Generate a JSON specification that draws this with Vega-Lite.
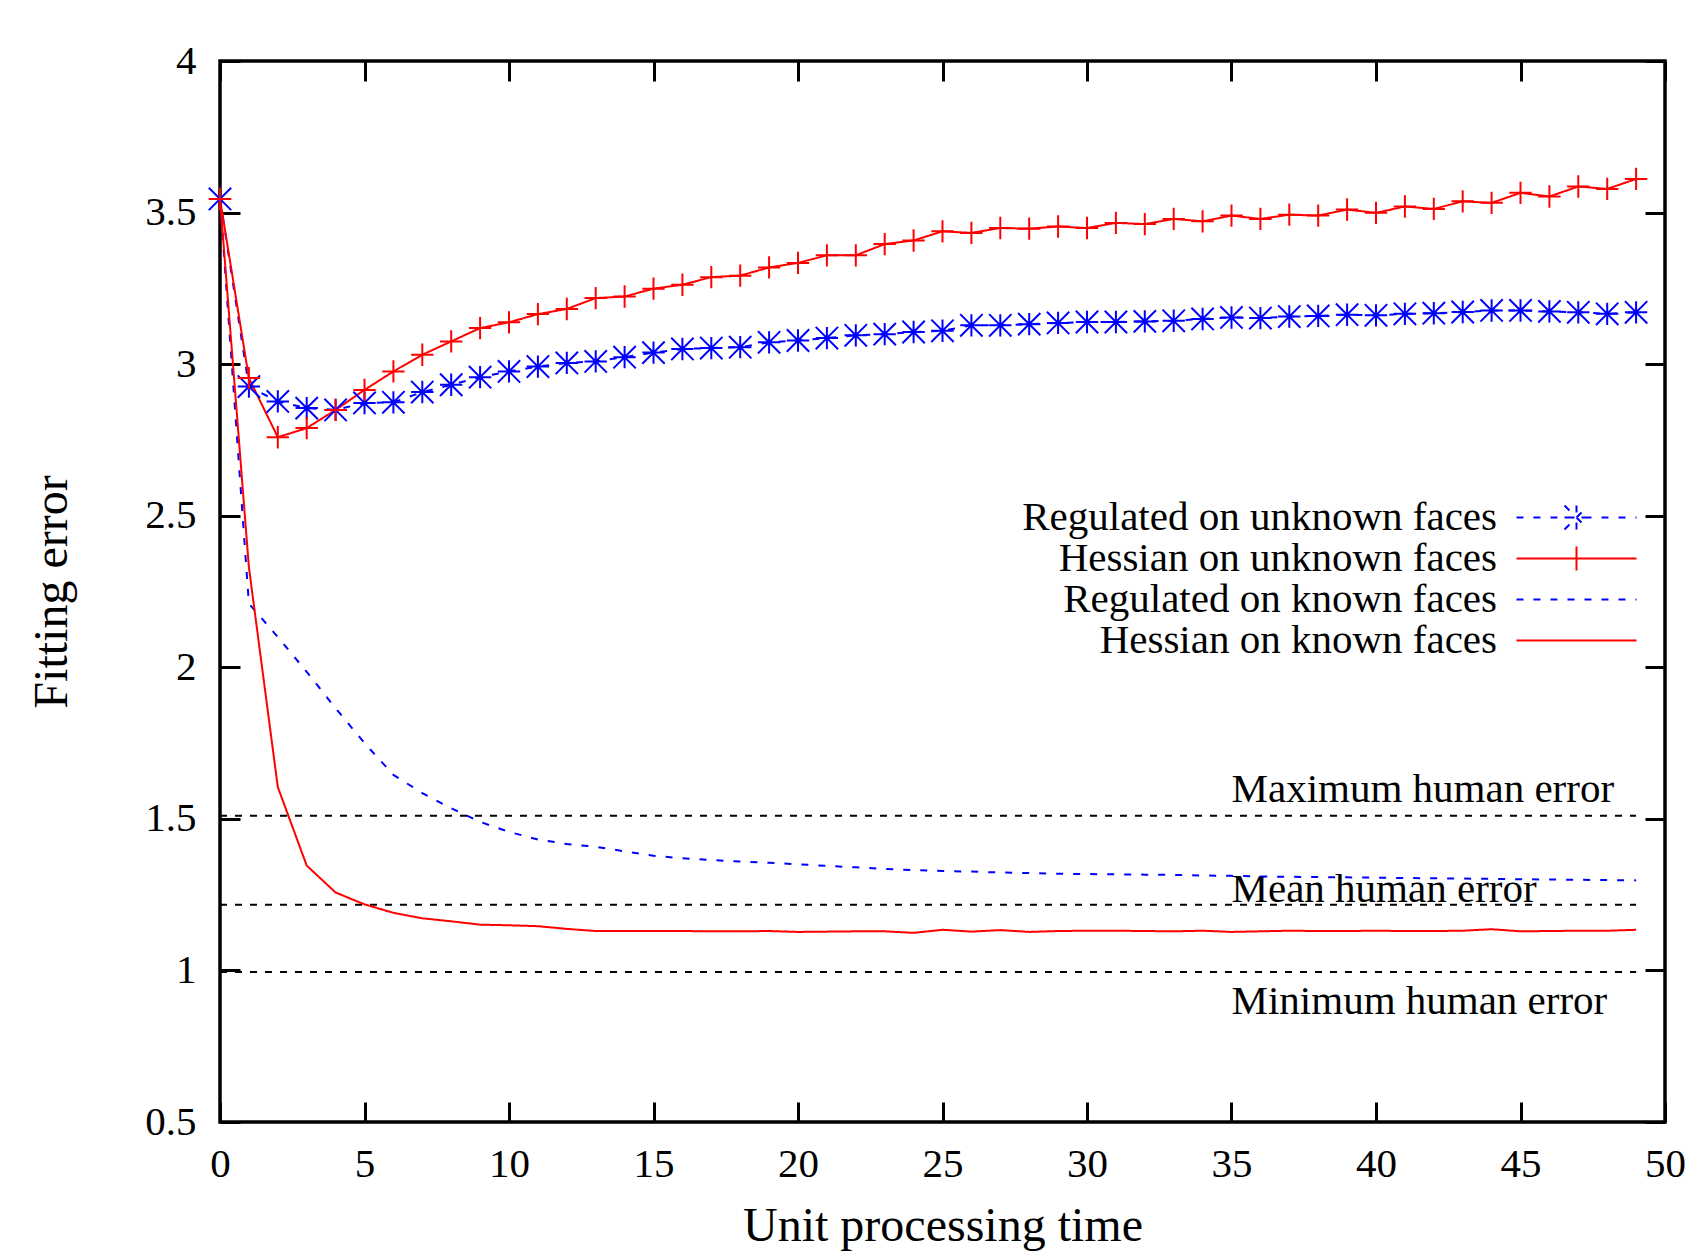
{
  "$schema": "https://vega.github.io/schema/vega-lite/v6.json",
  "width": 1445,
  "height": 1061,
  "autosize": {"type": "none"},
  "padding": {"left": 220, "top": 61, "right": 25, "bottom": 130},
  "background": "white",
  "config": {
    "font": "Liberation Serif",
    "view": {"stroke": "black", "strokeWidth": 3.5},
    "axis": {
      "grid": false,
      "domain": false,
      "tickColor": "black",
      "tickWidth": 3,
      "tickSize": -20,
      "labelFont": "Liberation Serif",
      "labelFontSize": 41,
      "labelColor": "black",
      "labelFlush": false,
      "titleFont": "Liberation Serif",
      "titleFontSize": 48,
      "titleFontWeight": "normal",
      "titleColor": "black"
    }
  },
  "datasets": {
    "curves": [
      {"time": 0, "error": 3.545, "series": "Regulated on unknown faces"},
      {"time": 1, "error": 2.926, "series": "Regulated on unknown faces"},
      {"time": 2, "error": 2.877, "series": "Regulated on unknown faces"},
      {"time": 3, "error": 2.855, "series": "Regulated on unknown faces"},
      {"time": 4, "error": 2.849, "series": "Regulated on unknown faces"},
      {"time": 5, "error": 2.872, "series": "Regulated on unknown faces"},
      {"time": 6, "error": 2.874, "series": "Regulated on unknown faces"},
      {"time": 7, "error": 2.908, "series": "Regulated on unknown faces"},
      {"time": 8, "error": 2.932, "series": "Regulated on unknown faces"},
      {"time": 9, "error": 2.957, "series": "Regulated on unknown faces"},
      {"time": 10, "error": 2.976, "series": "Regulated on unknown faces"},
      {"time": 11, "error": 2.992, "series": "Regulated on unknown faces"},
      {"time": 12, "error": 3.004, "series": "Regulated on unknown faces"},
      {"time": 13, "error": 3.009, "series": "Regulated on unknown faces"},
      {"time": 14, "error": 3.023, "series": "Regulated on unknown faces"},
      {"time": 15, "error": 3.038, "series": "Regulated on unknown faces"},
      {"time": 16, "error": 3.05, "series": "Regulated on unknown faces"},
      {"time": 17, "error": 3.053, "series": "Regulated on unknown faces"},
      {"time": 18, "error": 3.056, "series": "Regulated on unknown faces"},
      {"time": 19, "error": 3.072, "series": "Regulated on unknown faces"},
      {"time": 20, "error": 3.078, "series": "Regulated on unknown faces"},
      {"time": 21, "error": 3.086, "series": "Regulated on unknown faces"},
      {"time": 22, "error": 3.095, "series": "Regulated on unknown faces"},
      {"time": 23, "error": 3.099, "series": "Regulated on unknown faces"},
      {"time": 24, "error": 3.106, "series": "Regulated on unknown faces"},
      {"time": 25, "error": 3.11, "series": "Regulated on unknown faces"},
      {"time": 26, "error": 3.128, "series": "Regulated on unknown faces"},
      {"time": 27, "error": 3.128, "series": "Regulated on unknown faces"},
      {"time": 28, "error": 3.132, "series": "Regulated on unknown faces"},
      {"time": 29, "error": 3.136, "series": "Regulated on unknown faces"},
      {"time": 30, "error": 3.139, "series": "Regulated on unknown faces"},
      {"time": 31, "error": 3.139, "series": "Regulated on unknown faces"},
      {"time": 32, "error": 3.141, "series": "Regulated on unknown faces"},
      {"time": 33, "error": 3.143, "series": "Regulated on unknown faces"},
      {"time": 34, "error": 3.149, "series": "Regulated on unknown faces"},
      {"time": 35, "error": 3.154, "series": "Regulated on unknown faces"},
      {"time": 36, "error": 3.152, "series": "Regulated on unknown faces"},
      {"time": 37, "error": 3.157, "series": "Regulated on unknown faces"},
      {"time": 38, "error": 3.159, "series": "Regulated on unknown faces"},
      {"time": 39, "error": 3.163, "series": "Regulated on unknown faces"},
      {"time": 40, "error": 3.161, "series": "Regulated on unknown faces"},
      {"time": 41, "error": 3.166, "series": "Regulated on unknown faces"},
      {"time": 42, "error": 3.168, "series": "Regulated on unknown faces"},
      {"time": 43, "error": 3.172, "series": "Regulated on unknown faces"},
      {"time": 44, "error": 3.177, "series": "Regulated on unknown faces"},
      {"time": 45, "error": 3.177, "series": "Regulated on unknown faces"},
      {"time": 46, "error": 3.174, "series": "Regulated on unknown faces"},
      {"time": 47, "error": 3.171, "series": "Regulated on unknown faces"},
      {"time": 48, "error": 3.166, "series": "Regulated on unknown faces"},
      {"time": 49, "error": 3.171, "series": "Regulated on unknown faces"},
      {"time": 0, "error": 3.545, "series": "Hessian on unknown faces"},
      {"time": 1, "error": 2.954, "series": "Hessian on unknown faces"},
      {"time": 2, "error": 2.759, "series": "Hessian on unknown faces"},
      {"time": 3, "error": 2.789, "series": "Hessian on unknown faces"},
      {"time": 4, "error": 2.849, "series": "Hessian on unknown faces"},
      {"time": 5, "error": 2.915, "series": "Hessian on unknown faces"},
      {"time": 6, "error": 2.976, "series": "Hessian on unknown faces"},
      {"time": 7, "error": 3.031, "series": "Hessian on unknown faces"},
      {"time": 8, "error": 3.075, "series": "Hessian on unknown faces"},
      {"time": 9, "error": 3.119, "series": "Hessian on unknown faces"},
      {"time": 10, "error": 3.138, "series": "Hessian on unknown faces"},
      {"time": 11, "error": 3.165, "series": "Hessian on unknown faces"},
      {"time": 12, "error": 3.182, "series": "Hessian on unknown faces"},
      {"time": 13, "error": 3.218, "series": "Hessian on unknown faces"},
      {"time": 14, "error": 3.223, "series": "Hessian on unknown faces"},
      {"time": 15, "error": 3.249, "series": "Hessian on unknown faces"},
      {"time": 16, "error": 3.262, "series": "Hessian on unknown faces"},
      {"time": 17, "error": 3.287, "series": "Hessian on unknown faces"},
      {"time": 18, "error": 3.292, "series": "Hessian on unknown faces"},
      {"time": 19, "error": 3.319, "series": "Hessian on unknown faces"},
      {"time": 20, "error": 3.334, "series": "Hessian on unknown faces"},
      {"time": 21, "error": 3.359, "series": "Hessian on unknown faces"},
      {"time": 22, "error": 3.359, "series": "Hessian on unknown faces"},
      {"time": 23, "error": 3.396, "series": "Hessian on unknown faces"},
      {"time": 24, "error": 3.408, "series": "Hessian on unknown faces"},
      {"time": 25, "error": 3.438, "series": "Hessian on unknown faces"},
      {"time": 26, "error": 3.433, "series": "Hessian on unknown faces"},
      {"time": 27, "error": 3.449, "series": "Hessian on unknown faces"},
      {"time": 28, "error": 3.447, "series": "Hessian on unknown faces"},
      {"time": 29, "error": 3.454, "series": "Hessian on unknown faces"},
      {"time": 30, "error": 3.449, "series": "Hessian on unknown faces"},
      {"time": 31, "error": 3.466, "series": "Hessian on unknown faces"},
      {"time": 32, "error": 3.462, "series": "Hessian on unknown faces"},
      {"time": 33, "error": 3.479, "series": "Hessian on unknown faces"},
      {"time": 34, "error": 3.471, "series": "Hessian on unknown faces"},
      {"time": 35, "error": 3.49, "series": "Hessian on unknown faces"},
      {"time": 36, "error": 3.479, "series": "Hessian on unknown faces"},
      {"time": 37, "error": 3.493, "series": "Hessian on unknown faces"},
      {"time": 38, "error": 3.49, "series": "Hessian on unknown faces"},
      {"time": 39, "error": 3.51, "series": "Hessian on unknown faces"},
      {"time": 40, "error": 3.499, "series": "Hessian on unknown faces"},
      {"time": 41, "error": 3.52, "series": "Hessian on unknown faces"},
      {"time": 42, "error": 3.512, "series": "Hessian on unknown faces"},
      {"time": 43, "error": 3.537, "series": "Hessian on unknown faces"},
      {"time": 44, "error": 3.532, "series": "Hessian on unknown faces"},
      {"time": 45, "error": 3.565, "series": "Hessian on unknown faces"},
      {"time": 46, "error": 3.553, "series": "Hessian on unknown faces"},
      {"time": 47, "error": 3.586, "series": "Hessian on unknown faces"},
      {"time": 48, "error": 3.578, "series": "Hessian on unknown faces"},
      {"time": 49, "error": 3.611, "series": "Hessian on unknown faces"},
      {"time": 0, "error": 3.545, "series": "Regulated on known faces"},
      {"time": 1, "error": 2.21, "series": "Regulated on known faces"},
      {"time": 2, "error": 2.1, "series": "Regulated on known faces"},
      {"time": 3, "error": 1.985, "series": "Regulated on known faces"},
      {"time": 4, "error": 1.865, "series": "Regulated on known faces"},
      {"time": 5, "error": 1.75, "series": "Regulated on known faces"},
      {"time": 6, "error": 1.645, "series": "Regulated on known faces"},
      {"time": 7, "error": 1.585, "series": "Regulated on known faces"},
      {"time": 8, "error": 1.535, "series": "Regulated on known faces"},
      {"time": 9, "error": 1.49, "series": "Regulated on known faces"},
      {"time": 10, "error": 1.457, "series": "Regulated on known faces"},
      {"time": 11, "error": 1.432, "series": "Regulated on known faces"},
      {"time": 12, "error": 1.417, "series": "Regulated on known faces"},
      {"time": 13, "error": 1.408, "series": "Regulated on known faces"},
      {"time": 14, "error": 1.393, "series": "Regulated on known faces"},
      {"time": 15, "error": 1.378, "series": "Regulated on known faces"},
      {"time": 16, "error": 1.37, "series": "Regulated on known faces"},
      {"time": 17, "error": 1.364, "series": "Regulated on known faces"},
      {"time": 18, "error": 1.359, "series": "Regulated on known faces"},
      {"time": 19, "error": 1.355, "series": "Regulated on known faces"},
      {"time": 20, "error": 1.35, "series": "Regulated on known faces"},
      {"time": 21, "error": 1.345, "series": "Regulated on known faces"},
      {"time": 22, "error": 1.34, "series": "Regulated on known faces"},
      {"time": 23, "error": 1.335, "series": "Regulated on known faces"},
      {"time": 24, "error": 1.331, "series": "Regulated on known faces"},
      {"time": 25, "error": 1.328, "series": "Regulated on known faces"},
      {"time": 26, "error": 1.326, "series": "Regulated on known faces"},
      {"time": 27, "error": 1.323, "series": "Regulated on known faces"},
      {"time": 28, "error": 1.321, "series": "Regulated on known faces"},
      {"time": 29, "error": 1.319, "series": "Regulated on known faces"},
      {"time": 30, "error": 1.318, "series": "Regulated on known faces"},
      {"time": 31, "error": 1.317, "series": "Regulated on known faces"},
      {"time": 32, "error": 1.316, "series": "Regulated on known faces"},
      {"time": 33, "error": 1.315, "series": "Regulated on known faces"},
      {"time": 34, "error": 1.313, "series": "Regulated on known faces"},
      {"time": 35, "error": 1.312, "series": "Regulated on known faces"},
      {"time": 36, "error": 1.31, "series": "Regulated on known faces"},
      {"time": 37, "error": 1.309, "series": "Regulated on known faces"},
      {"time": 38, "error": 1.308, "series": "Regulated on known faces"},
      {"time": 39, "error": 1.307, "series": "Regulated on known faces"},
      {"time": 40, "error": 1.306, "series": "Regulated on known faces"},
      {"time": 41, "error": 1.305, "series": "Regulated on known faces"},
      {"time": 42, "error": 1.304, "series": "Regulated on known faces"},
      {"time": 43, "error": 1.303, "series": "Regulated on known faces"},
      {"time": 44, "error": 1.302, "series": "Regulated on known faces"},
      {"time": 45, "error": 1.301, "series": "Regulated on known faces"},
      {"time": 46, "error": 1.3, "series": "Regulated on known faces"},
      {"time": 47, "error": 1.299, "series": "Regulated on known faces"},
      {"time": 48, "error": 1.298, "series": "Regulated on known faces"},
      {"time": 49, "error": 1.297, "series": "Regulated on known faces"},
      {"time": 0, "error": 3.545, "series": "Hessian on known faces"},
      {"time": 1, "error": 2.33, "series": "Hessian on known faces"},
      {"time": 2, "error": 1.605, "series": "Hessian on known faces"},
      {"time": 3, "error": 1.346, "series": "Hessian on known faces"},
      {"time": 4, "error": 1.257, "series": "Hessian on known faces"},
      {"time": 5, "error": 1.218, "series": "Hessian on known faces"},
      {"time": 6, "error": 1.19, "series": "Hessian on known faces"},
      {"time": 7, "error": 1.172, "series": "Hessian on known faces"},
      {"time": 8, "error": 1.162, "series": "Hessian on known faces"},
      {"time": 9, "error": 1.151, "series": "Hessian on known faces"},
      {"time": 10, "error": 1.149, "series": "Hessian on known faces"},
      {"time": 11, "error": 1.146, "series": "Hessian on known faces"},
      {"time": 12, "error": 1.137, "series": "Hessian on known faces"},
      {"time": 13, "error": 1.13, "series": "Hessian on known faces"},
      {"time": 14, "error": 1.13, "series": "Hessian on known faces"},
      {"time": 15, "error": 1.13, "series": "Hessian on known faces"},
      {"time": 16, "error": 1.13, "series": "Hessian on known faces"},
      {"time": 17, "error": 1.129, "series": "Hessian on known faces"},
      {"time": 18, "error": 1.129, "series": "Hessian on known faces"},
      {"time": 19, "error": 1.13, "series": "Hessian on known faces"},
      {"time": 20, "error": 1.127, "series": "Hessian on known faces"},
      {"time": 21, "error": 1.128, "series": "Hessian on known faces"},
      {"time": 22, "error": 1.129, "series": "Hessian on known faces"},
      {"time": 23, "error": 1.129, "series": "Hessian on known faces"},
      {"time": 24, "error": 1.124, "series": "Hessian on known faces"},
      {"time": 25, "error": 1.134, "series": "Hessian on known faces"},
      {"time": 26, "error": 1.128, "series": "Hessian on known faces"},
      {"time": 27, "error": 1.133, "series": "Hessian on known faces"},
      {"time": 28, "error": 1.127, "series": "Hessian on known faces"},
      {"time": 29, "error": 1.13, "series": "Hessian on known faces"},
      {"time": 30, "error": 1.131, "series": "Hessian on known faces"},
      {"time": 31, "error": 1.131, "series": "Hessian on known faces"},
      {"time": 32, "error": 1.13, "series": "Hessian on known faces"},
      {"time": 33, "error": 1.129, "series": "Hessian on known faces"},
      {"time": 34, "error": 1.131, "series": "Hessian on known faces"},
      {"time": 35, "error": 1.127, "series": "Hessian on known faces"},
      {"time": 36, "error": 1.129, "series": "Hessian on known faces"},
      {"time": 37, "error": 1.131, "series": "Hessian on known faces"},
      {"time": 38, "error": 1.13, "series": "Hessian on known faces"},
      {"time": 39, "error": 1.13, "series": "Hessian on known faces"},
      {"time": 40, "error": 1.131, "series": "Hessian on known faces"},
      {"time": 41, "error": 1.13, "series": "Hessian on known faces"},
      {"time": 42, "error": 1.13, "series": "Hessian on known faces"},
      {"time": 43, "error": 1.131, "series": "Hessian on known faces"},
      {"time": 44, "error": 1.136, "series": "Hessian on known faces"},
      {"time": 45, "error": 1.129, "series": "Hessian on known faces"},
      {"time": 46, "error": 1.13, "series": "Hessian on known faces"},
      {"time": 47, "error": 1.131, "series": "Hessian on known faces"},
      {"time": 48, "error": 1.131, "series": "Hessian on known faces"},
      {"time": 49, "error": 1.134, "series": "Hessian on known faces"}
    ],
    "human": [
      {"time": 0, "error": 1.51, "level": "Maximum human error"},
      {"time": 49, "error": 1.51, "level": "Maximum human error"},
      {"time": 0, "error": 1.217, "level": "Mean human error"},
      {"time": 49, "error": 1.217, "level": "Mean human error"},
      {"time": 0, "error": 0.995, "level": "Minimum human error"},
      {"time": 49, "error": 0.995, "level": "Minimum human error"}
    ],
    "humanLabels": [
      {"time": 35, "error": 1.595, "label": "Maximum human error"},
      {"time": 35, "error": 1.265, "label": "Mean human error"},
      {"time": 35, "error": 0.896, "label": "Minimum human error"}
    ]
  },
  "layer": [
    {
      "data": {"name": "human"},
      "mark": {"type": "line", "color": "black", "strokeWidth": 2, "strokeDash": [7, 8]},
      "encoding": {
        "x": {
          "field": "time", "type": "quantitative",
          "scale": {"domain": [0, 50], "nice": false, "zero": false},
          "axis": {"orient": "bottom", "values": [0, 5, 10, 15, 20, 25, 30, 35, 40, 45, 50], "labelExpr": "'' + datum.value", "title": "Unit processing time", "labelPadding": 42, "titlePadding": 18}
        },
        "y": {
          "field": "error", "type": "quantitative",
          "scale": {"domain": [0.5, 4], "nice": false, "zero": false},
          "axis": {"orient": "left", "values": [0.5, 1, 1.5, 2, 2.5, 3, 3.5, 4], "labelExpr": "'' + datum.value", "title": "Fitting error", "labelPadding": 44, "titlePadding": 68}
        },
        "detail": {"field": "level", "type": "nominal"}
      }
    },
    {
      "data": {"name": "humanLabels"},
      "mark": {"type": "text", "align": "left", "baseline": "middle", "font": "Liberation Serif", "fontSize": 41, "color": "black"},
      "encoding": {
        "x": {"field": "time", "type": "quantitative", "axis": null},
        "y": {"field": "error", "type": "quantitative", "axis": null},
        "text": {"field": "label", "type": "nominal"}
      }
    },
    {
      "data": {"name": "curves"},
      "mark": {"type": "line", "strokeWidth": 2},
      "encoding": {
        "x": {
          "field": "time", "type": "quantitative",
          "axis": {"orient": "top", "values": [0, 5, 10, 15, 20, 25, 30, 35, 40, 45, 50], "labels": false, "title": null}
        },
        "y": {
          "field": "error", "type": "quantitative",
          "axis": {"orient": "right", "values": [0.5, 1, 1.5, 2, 2.5, 3, 3.5, 4], "labels": false, "title": null}
        },
        "color": {
          "field": "series", "type": "nominal",
          "scale": {"domain": ["Regulated on unknown faces", "Hessian on unknown faces", "Regulated on known faces", "Hessian on known faces"], "range": ["#0000ff", "#ff0000", "#0000ff", "#ff0000"]},
          "legend": {
            "title": null,
            "orient": "none",
            "legendX": 1336,
            "legendY": 436,
            "padding": 0,
            "labelFont": "Liberation Serif",
            "labelFontSize": 41,
            "labelColor": "black",
            "labelAlign": "right",
            "labelOffset": -100,
            "labelLimit": 0,
            "symbolSize": 900,
            "symbolStrokeWidth": 2,
            "rowPadding": -1,
            "encode": {
              "symbols": {
                "update": {
                  "shape": {"signal": "datum.value === 'Regulated on unknown faces' ? 'M-4,0H-3.53M-2.87,0H-2.4M-1.73,0H-1.27M-0.6,0H-0.13M0.53,0H1M1.67,0H2.13M2.8,0H3.27M3.93,0H4M-0.8,0H0.8M0,-0.8V0.8M-0.8,-0.8L0.8,0.8M-0.8,0.8L0.8,-0.8' : datum.value === 'Hessian on unknown faces' ? 'M-4,0H4M0,-0.8V0.8' : datum.value === 'Regulated on known faces' ? 'M-4,0H-3.53M-2.87,0H-2.4M-1.73,0H-1.27M-0.6,0H-0.13M0.53,0H1M1.67,0H2.13M2.8,0H3.27M3.93,0H4' : 'M-4,0H4'"},
                  "strokeDash": {"value": [1, 0]},
                  "fill": {"value": "transparent"},
                  "opacity": {"value": 1}
                }
              }
            }
          }
        },
        "strokeDash": {
          "field": "series", "type": "nominal",
          "scale": {"domain": ["Regulated on unknown faces", "Hessian on unknown faces", "Regulated on known faces", "Hessian on known faces"], "range": [[7, 10], [1, 0], [7, 10], [1, 0]]},
          "legend": null
        }
      }
    },
    {
      "data": {"name": "curves"},
      "transform": [{"filter": "datum.series === 'Regulated on unknown faces' || datum.series === 'Hessian on unknown faces'"}],
      "mark": {"type": "point", "filled": false, "strokeWidth": 2, "size": 500, "opacity": 1},
      "encoding": {
        "x": {"field": "time", "type": "quantitative", "axis": null},
        "y": {"field": "error", "type": "quantitative", "axis": null},
        "color": {
          "field": "series", "type": "nominal",
          "scale": {"domain": ["Regulated on unknown faces", "Hessian on unknown faces", "Regulated on known faces", "Hessian on known faces"], "range": ["#0000ff", "#ff0000", "#0000ff", "#ff0000"]},
          "legend": null
        },
        "shape": {
          "field": "series", "type": "nominal",
          "scale": {"domain": ["Regulated on unknown faces", "Hessian on unknown faces"], "range": ["M-1,0H1M0,-1V1M-1,-1L1,1M-1,1L1,-1", "M-1,0H1M0,-1V1"]},
          "legend": null
        }
      }
    }
  ],
  "resolve": {"axis": {"x": "independent", "y": "independent"}}
}
